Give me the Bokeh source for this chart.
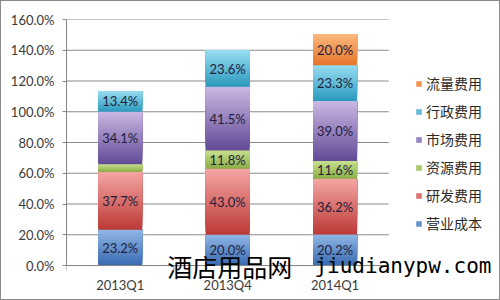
from bokeh.plotting import figure
from bokeh.models import ColumnDataSource, Legend, LegendItem, Label, PrintfTickFormatter
from bokeh.core.properties import value
from bokeh.embed import file_html
from bokeh.resources import INLINE

# ---- data ----
quarters = ["2013Q1", "2013Q4", "2014Q1"]
series_names = ["营业成本", "研发费用", "资源费用", "市场费用", "行政费用", "流量费用"]
yingye_chengben = [23.2, 20.0, 20.2]
yanfa_feiyong = [37.7, 43.0, 36.2]
ziyuan_feiyong = [5.0, 11.8, 11.6]
shichang_feiyong = [34.1, 41.5, 39.0]
xingzheng_feiyong = [13.4, 23.6, 23.3]
liuliang_feiyong = [0.0, 0.0, 20.0]
y_ticks = [0, 20, 40, 60, 80, 100, 120, 140, 160]

series_values = [yingye_chengben, yanfa_feiyong, ziyuan_feiyong,
                 shichang_feiyong, xingzheng_feiyong, liuliang_feiyong]

# styling (top light -> bottom dark)
grad = [("#8fb5e4", "#3a6cb2"),
        ("#f3a4a2", "#bd3b37"),
        ("#c6df8e", "#8aae47"),
        ("#c8b6e2", "#644c97"),
        ("#95dcf1", "#2d9abd"),
        ("#fbb67c", "#e6762b")]
AXIS_C = "#868686"


def hex2rgb(h):
    h = h.lstrip("#")
    return tuple(int(h[i:i + 2], 16) for i in (0, 2, 4))


def mix(c1, c2, t):
    a, b = hex2rgb(c1), hex2rgb(c2)
    return "#%02x%02x%02x" % tuple(round(a[i] + (b[i] - a[i]) * t) for i in range(3))


n_cat = len(quarters)
cat_x = [i + 0.5 for i in range(n_cat)]

# frame spans from the y axis to the right edge and down to the bottom edge
p = figure(x_range=(0, 4.04), y_range=(-23.4, 160),
           width=500, height=300, output_backend="svg", toolbar_location=None,
           x_axis_location=None,
           min_border_left=65, min_border_right=1, min_border_top=18,
           min_border_bottom=0, background_fill_color="white",
           border_fill_color="white", outline_line_color=None)
p.styles = {"border": "1px solid #8a8a8a", "box-sizing": "border-box"}

# horizontal gridlines over the category span
p.segment(x0=[0] * len(y_ticks), x1=[n_cat] * len(y_ticks), y0=y_ticks, y1=y_ticks,
          line_color="#8a8a8a", line_width=1)

BAR_W = 0.41
NB = 24
bottoms = [0.0] * n_cat
renderers = []
lab_x, lab_y, lab_t = [], [], []
for s, vals in enumerate(series_values):
    xs, bs, ts, cs = [], [], [], []
    mid_index = None
    for q, v in enumerate(vals):
        if v <= 0:
            continue
        b0 = bottoms[q]
        # gradient: each band runs up to the segment top, lighter bands drawn later on top
        for k in range(NB):
            xs.append(cat_x[q])
            bs.append(b0 + v * k / NB)
            ts.append(b0 + v)
            cs.append(mix(grad[s][1], grad[s][0], k / (NB - 1)))
            if k == NB // 2:
                mid_index = len(xs) - 1
        if v >= 8:
            lab_x.append(cat_x[q])
            lab_y.append(b0 + v / 2)
            lab_t.append("%.1f%%" % v)
        bottoms[q] = b0 + v
    src = ColumnDataSource(dict(x=xs, bottom=bs, top=ts, color=cs))
    r = p.vbar(x="x", bottom="bottom", top="top", width=BAR_W, source=src,
               fill_color="color", line_color=None)
    renderers.append((series_names[s], r, mid_index))

p.text(x=lab_x, y=lab_y, text=lab_t, text_align="center", text_baseline="middle",
       text_font=value("Lato"), text_font_size="13px", text_color="#1e1e3a")

# category (x) axis: line, boundary ticks, labels
p.segment(x0=[0], x1=[n_cat], y0=[0], y1=[0], line_color=AXIS_C, line_width=1)
p.segment(x0=list(range(n_cat + 1)), x1=list(range(n_cat + 1)),
          y0=[0] * (n_cat + 1), y1=[-3.0] * (n_cat + 1), line_color=AXIS_C, line_width=1)
p.text(x=cat_x, y=[0] * n_cat, text=quarters, y_offset=11, text_align="center",
       text_baseline="top", text_font=value("Lato"), text_font_size="13px",
       text_color="#3a3a3a")

# y axis
p.yaxis.ticker = y_ticks
p.yaxis.bounds = (0, 160)
p.yaxis.formatter = PrintfTickFormatter(format="%.1f%%")
ax = p.yaxis[0]
ax.axis_line_color = AXIS_C
ax.major_tick_line_color = AXIS_C
ax.minor_tick_line_color = None
ax.major_label_text_font = "Lato"
ax.major_label_text_font_size = "13px"
ax.major_label_text_color = "#3a3a3a"
ax.major_tick_in = 0
ax.major_tick_out = 4
ax.major_label_standoff = 8
p.xgrid.grid_line_color = None
p.ygrid.grid_line_color = None

# legend (reverse order, top = 流量费用)
items = [LegendItem(label=n, renderers=[r], index=i) for (n, r, i) in reversed(renderers)]
legend = Legend(items=items, location=(349, 68), glyph_width=7, glyph_height=7,
                label_standoff=4, spacing=8, label_height=20, padding=0, margin=0,
                border_line_color=None, background_fill_alpha=0,
                label_text_font="Noto Sans CJK SC", label_text_font_size="14px",
                label_text_color="#2a2a2a")
p.add_layout(legend)

# watermark
p.add_layout(Label(x=0.938, y=0, text="酒店用品网", text_font="Noto Sans CJK SC",
                   text_font_size="25px", text_color="black", text_baseline="alphabetic"))
p.add_layout(Label(x=2.308, y=0, text="jiudianypw.com", text_font="DejaVu Sans Mono",
                   text_font_size="21px", text_color="black", text_baseline="alphabetic"))

open("out.html", "w").write(file_html(p, INLINE))
